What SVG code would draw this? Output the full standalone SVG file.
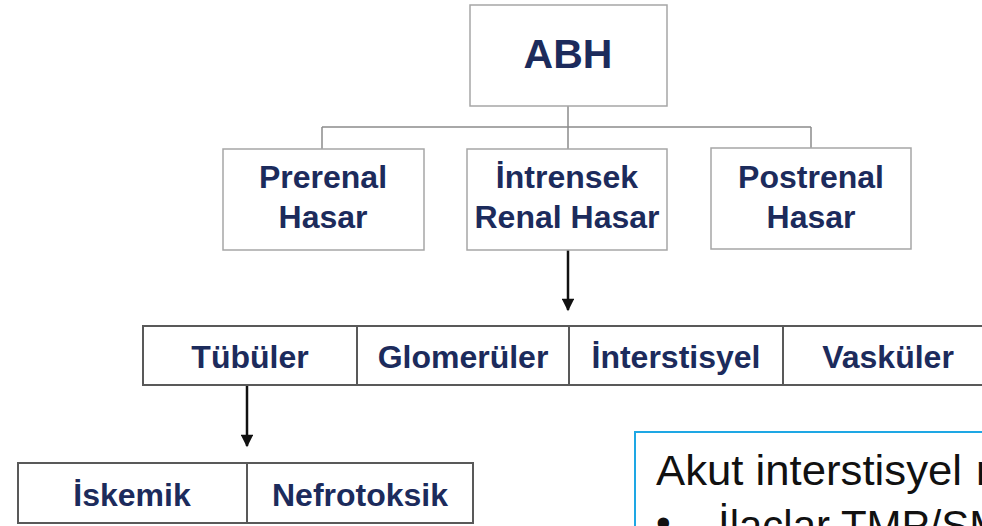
<svg xmlns="http://www.w3.org/2000/svg" width="982" height="526" viewBox="0 0 982 526">
<style>
.top{fill:#fff;stroke:#a6a6a6;stroke-width:1.5}
.row{fill:#fff;stroke:#595959;stroke-width:2}
.lbl{font-family:"Liberation Sans",Arial,sans-serif;font-weight:bold;fill:#1c2b5c;text-anchor:middle}
.conn{stroke:#8c8c8c;stroke-width:1.5;fill:none}
.arr{stroke:#111;stroke-width:2.5;fill:none}
.note{font-family:"Liberation Sans",Arial,sans-serif;font-size:42px;fill:#111}
</style>
<defs>
<marker id="ah" viewBox="0 0 10 10" refX="9" refY="5" markerWidth="5.5" markerHeight="5" orient="auto" markerUnits="strokeWidth">
<path d="M0,0 L10,5 L0,10 z" fill="#111"/>
</marker>
</defs>
<rect width="982" height="526" fill="#fff"/>
<g id="connectors">
<path class="conn" d="M568,106 V149 M322,127 H811 M322,127 V149 M811,127 V148"/>
<path class="arr" d="M568,250 V310" marker-end="url(#ah)"/>
<path class="arr" d="M247,385 V446" marker-end="url(#ah)"/>
</g>
<g id="abh">
<rect class="top" x="470" y="5" width="197" height="101"/>
<text class="lbl" x="568" y="68" font-size="41">ABH</text>
</g>
<g id="prerenal">
<rect class="top" x="223" y="149" width="201" height="101"/>
<text class="lbl" font-size="32"><tspan x="323" y="188">Prerenal</tspan><tspan x="323" y="228">Hasar</tspan></text>
</g>
<g id="intrensek">
<rect class="top" x="467" y="149" width="200" height="101"/>
<text class="lbl" font-size="32"><tspan x="567" y="188">İntrensek</tspan><tspan x="567" y="228">Renal Hasar</tspan></text>
</g>
<g id="postrenal">
<rect class="top" x="711" y="148" width="200" height="101"/>
<text class="lbl" font-size="32"><tspan x="811" y="188">Postrenal</tspan><tspan x="811" y="228">Hasar</tspan></text>
</g>
<g id="tubuler">
<rect class="row" x="143" y="326" width="214" height="59"/>
<text class="lbl" x="250" y="368" font-size="32">Tübüler</text>
</g>
<g id="glomeruler">
<rect class="row" x="357" y="326" width="212" height="59"/>
<text class="lbl" x="463" y="368" font-size="32">Glomerüler</text>
</g>
<g id="interstisyel">
<rect class="row" x="569" y="326" width="214" height="59"/>
<text class="lbl" x="676" y="368" font-size="32">İnterstisyel</text>
</g>
<g id="vaskuler">
<rect class="row" x="783" y="326" width="212" height="59"/>
<text class="lbl" x="888" y="368" font-size="32">Vasküler</text>
</g>
<g id="iskemik">
<rect class="row" x="18" y="463" width="229" height="60"/>
<text class="lbl" x="132" y="506" font-size="32">İskemik</text>
</g>
<g id="nefrotoksik">
<rect class="row" x="247" y="463" width="226" height="60"/>
<text class="lbl" x="360" y="506" font-size="32">Nefrotoksik</text>
</g>
<g id="note">
<rect x="635" y="432" width="360" height="110" fill="#fff" stroke="#1ea7e4" stroke-width="2"/>
<text class="note" x="656" y="485"><tspan textLength="306" lengthAdjust="spacingAndGlyphs">Akut interstisyel</tspan><tspan x="976">n</tspan></text>
<text class="note" x="656" y="537">•</text>
<text class="note" x="718" y="540">İlaçlar TMP/SM</text>
</g>
</svg>
